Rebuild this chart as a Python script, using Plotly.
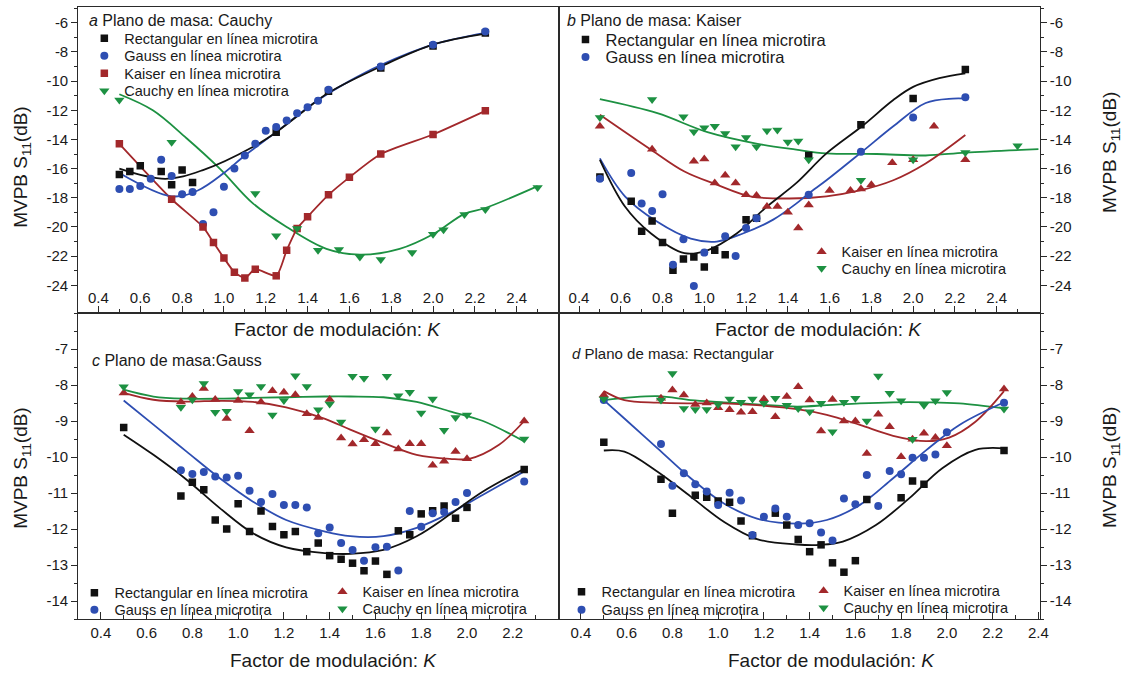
import plotly.graph_objects as go

W, H = 1135, 673

# ---------------- tick labels ----------------
ab_yticks = [-6, -8, -10, -12, -14, -16, -18, -20, -22, -24]
cd_yticks = [-7, -8, -9, -10, -11, -12, -13, -14]
ab_xticks = [0.4, 0.6, 0.8, 1.0, 1.2, 1.4, 1.6, 1.8, 2.0, 2.2, 2.4]
c_xticks = [0.4, 0.6, 0.8, 1.0, 1.2, 1.4, 1.6, 1.8, 2.0, 2.2]
d_xticks = [0.4, 0.6, 0.8, 1.0, 1.2, 1.4, 1.6, 1.8, 2.0, 2.2, 2.4]

# ---------------- panel a: ground plane Cauchy ----------------
a_rect_k = [0.5, 0.55, 0.6, 0.7, 0.75, 0.8, 0.85, 1.25, 1.5, 1.75, 2.0, 2.25]
a_rect_v = [-16.4, -16.2, -15.8, -16.2, -17.1, -16.1, -16.95, -13.5, -10.7, -9.1, -7.6, -6.7]
a_rect_fit_k = [0.5, 0.72, 0.9, 1.14, 1.25, 1.45, 1.5, 1.75, 2.0, 2.25]
a_rect_fit_v = [-16.0, -16.7, -16.1, -14.5, -13.5, -11.3, -10.8, -9.0, -7.5, -6.75]

a_gauss_k = [0.5, 0.55, 0.6, 0.65, 0.7, 0.75, 0.8, 0.85, 0.9, 0.95, 1.0, 1.05, 1.1, 1.15,
             1.2, 1.25, 1.3, 1.35, 1.4, 1.45, 1.5, 1.75, 2.0, 2.25]
a_gauss_v = [-17.4, -17.4, -17.2, -16.7, -15.4, -16.5, -17.75, -17.6, -19.8, -19.0, -17.25,
             -16.0, -15.1, -14.3, -13.4, -13.15, -12.7, -12.2, -11.8, -11.35, -10.6, -9.0, -7.5, -6.6]
a_gauss_fit_k = [0.5, 0.75, 0.875, 1.0, 1.1, 1.25, 1.45, 1.6, 1.75, 2.0, 2.25]
a_gauss_fit_v = [-16.3, -17.9, -17.5, -16.3, -15.1, -13.5, -11.3, -10.0, -8.9, -7.5, -6.7]

a_kaiser_k = [0.5, 0.75, 0.9, 0.95, 1.0, 1.05, 1.1, 1.15, 1.25, 1.3, 1.35, 1.4, 1.5, 1.6, 1.75, 2.0, 2.25]
a_kaiser_v = [-14.3, -18.1, -20.0, -21.07, -22.13, -23.1, -23.5, -22.9, -23.35, -21.6, -20.1,
              -19.3, -17.8, -16.6, -15.0, -13.66, -12.04]

a_cauchy_k = [0.5, 0.75, 1.15, 1.25, 1.35, 1.45, 1.55, 1.65, 1.75, 1.9, 2.0, 2.05, 2.15, 2.25, 2.5]
a_cauchy_v = [-11.3, -14.2, -17.7, -20.6, -20.1, -21.6, -21.55, -22.06, -22.24, -21.76, -20.5,
              -20.2, -19.15, -18.8, -17.3]
a_cauchy_fit_k = [0.5, 0.66, 0.82, 0.98, 1.14, 1.3, 1.49, 1.65, 1.84, 2.0, 2.15, 2.25, 2.5]
a_cauchy_fit_v = [-10.9, -12.0, -13.9, -16.0, -18.4, -20.0, -21.5, -21.9, -21.5, -20.5, -19.1, -18.7, -17.2]

# ---------------- panel b: ground plane Kaiser ----------------
b_rect_k = [0.5, 0.65, 0.7, 0.75, 0.8, 0.85, 0.9, 0.95, 1.0, 1.05, 1.1, 1.2, 1.25, 1.5, 1.75, 2.0, 2.25]
b_rect_v = [-16.57, -18.24, -20.3, -19.6, -21.07, -22.97, -22.2, -22.06, -22.75, -21.6, -21.9,
            -19.5, -19.4, -15.1, -13.0, -11.2, -9.2]
b_rect_fit_k = [0.5, 0.62, 0.745, 0.905, 1.015, 1.155, 1.3, 1.44, 1.585, 1.755, 1.905, 2.0, 2.125, 2.25]
b_rect_fit_v = [-15.4, -18.6, -20.45, -21.8, -21.6, -20.45, -18.6, -17.0, -14.96, -13.1, -11.3,
                -10.4, -9.8, -9.47]

b_gauss_k = [0.5, 0.65, 0.7, 0.75, 0.8, 0.85, 0.9, 0.95, 1.0, 1.1, 1.15, 1.2, 1.25, 1.5, 1.75, 2.0, 2.25]
b_gauss_v = [-16.7, -16.3, -18.4, -18.9, -17.76, -22.6, -20.85, -24.05, -21.76, -20.64, -22.0,
             -20.07, -19.4, -17.8, -14.85, -12.5, -11.1]
b_gauss_fit_k = [0.5, 0.62, 0.775, 0.935, 1.06, 1.185, 1.33, 1.44, 1.5, 1.585, 1.755, 1.905, 2.06, 2.19, 2.25]
b_gauss_fit_v = [-15.3, -17.9, -19.65, -20.8, -21.0, -20.45, -19.5, -18.4, -17.7, -16.8, -14.85,
                 -13.1, -11.5, -11.2, -11.2]

b_kaiser_k = [0.5, 0.75, 0.95, 1.0, 1.05, 1.1, 1.15, 1.2, 1.25, 1.3, 1.35, 1.4, 1.45, 1.5, 1.6,
              1.7, 1.75, 1.8, 1.9, 2.0, 2.1, 2.25]
b_kaiser_v = [-13.1, -14.67, -15.5, -15.35, -16.98, -16.45, -16.98, -17.8, -17.85, -18.6, -18.6,
              -19.0, -20.07, -18.5, -17.5, -17.5, -17.4, -17.1, -15.6, -15.4, -13.1, -15.4]
b_kaiser_fit_k = [0.5, 0.745, 0.905, 1.06, 1.22, 1.41, 1.585, 1.745, 1.905, 2.06, 2.25]
b_kaiser_fit_v = [-12.3, -14.7, -16.2, -17.1, -17.9, -18.05, -17.9, -17.5, -16.8, -15.65, -13.7]

b_cauchy_k = [0.5, 0.75, 0.9, 0.95, 1.0, 1.05, 1.1, 1.15, 1.2, 1.25, 1.3, 1.35, 1.4, 1.45, 1.5,
              1.75, 2.0, 2.25, 2.5]
b_cauchy_v = [-12.5, -11.26, -12.45, -13.48, -13.2, -13.1, -13.6, -14.5, -13.87, -14.5, -13.4,
              -13.36, -14.17, -14.1, -15.4, -16.8, -15.4, -14.9, -14.44]
b_cauchy_fit_k = [0.5, 0.775, 1.015, 1.255, 1.44, 1.585, 1.825, 2.06, 2.25, 2.6]
b_cauchy_fit_v = [-11.24, -12.2, -13.5, -14.3, -14.7, -14.96, -15.0, -15.1, -14.9, -14.67]

# ---------------- panel c: ground plane Gauss ----------------
c_k = [0.75, 0.8, 0.85, 0.9, 0.95, 1.0, 1.05, 1.1, 1.15, 1.2, 1.25, 1.3, 1.35, 1.4, 1.45,
       1.5, 1.55, 1.6, 1.65, 1.7, 1.75, 1.8, 1.85, 1.9, 1.95, 2.0, 2.25]
c_rect_k = [0.5] + c_k
c_rect_v = [-9.18, -11.08, -10.70, -10.91, -11.75, -12.0, -11.3, -12.07, -11.5, -11.93, -12.16,
            -12.07, -12.63, -12.39, -12.74, -12.84, -12.95, -13.16, -12.89, -13.26, -12.05,
            -12.16, -11.58, -11.49, -11.36, -11.7, -11.4, -10.35]
c_gauss_k = c_k
c_gauss_v = [-10.37, -10.47, -10.42, -10.54, -10.57, -10.52, -10.94, -11.25, -11.03, -11.33,
             -11.33, -11.4, -12.12, -11.96, -12.39, -12.58, -12.88, -12.51, -12.49, -13.15,
             -11.5, -11.94, -11.56, -11.53, -11.25, -11.0, -10.68]
c_kaiser_k = [0.5] + c_k
c_kaiser_v = [-8.22, -8.47, -8.32, -8.1, -8.4, -8.93, -8.43, -9.27, -8.47, -8.16, -8.2, -8.27,
              -8.8, -8.9, -8.4, -9.47, -9.64, -9.52, -9.63, -9.33, -9.78, -9.63, -9.63, -10.23,
              -10.12, -9.85, -10.05, -9.0]
c_cauchy_k = [0.5] + c_k
c_cauchy_v = [-8.05, -8.62, -8.41, -7.96, -8.76, -8.73, -8.18, -8.27, -8.04, -8.83, -8.43,
              -7.74, -8.04, -8.69, -8.53, -9.03, -7.76, -7.81, -9.22, -7.76, -8.3, -8.2, -8.78,
              -8.39, -9.26, -8.9, -8.83, -9.5]
c_fit_k = [0.5, 0.63, 0.775, 0.92, 1.065, 1.21, 1.38, 1.49, 1.635, 1.78, 1.925, 2.07, 2.25]
c_rect_fit_v = [-9.38, -9.94, -10.63, -11.42, -12.12, -12.51, -12.67, -12.69, -12.58, -12.2,
                -11.6, -10.96, -10.33]
c_gauss_fit_v = [-8.43, -9.1, -9.85, -10.59, -11.24, -11.75, -12.07, -12.2, -12.2, -11.97,
                 -11.56, -11.05, -10.4]
c_cauchy_fit_v = [-8.13, -8.32, -8.38, -8.38, -8.36, -8.34, -8.32, -8.32, -8.34, -8.47, -8.73,
                  -9.0, -9.57]
c_kaiser_fit_k = [0.5, 0.63, 0.775, 0.92, 1.065, 1.21, 1.38, 1.49, 1.635, 1.78, 1.925, 2.01, 2.14, 2.25]
c_kaiser_fit_v = [-8.22, -8.41, -8.46, -8.44, -8.47, -8.62, -8.94, -9.24, -9.61, -9.94, -10.05,
                  -10.05, -9.66, -9.0]

# ---------------- panel d: ground plane Rectangular ----------------
d_rect_k = [0.5, 0.75, 0.8, 0.9, 0.95, 1.0, 1.05, 1.1, 1.15, 1.25, 1.3, 1.35, 1.4, 1.45, 1.5,
            1.55, 1.6, 1.65, 1.8, 1.85, 1.9, 2.25]
d_rect_v = [-9.59, -10.62, -11.56, -11.06, -11.12, -11.22, -11.26, -11.78, -12.19, -11.56,
            -11.89, -12.29, -12.63, -12.44, -12.94, -13.2, -12.88, -11.18, -11.13, -10.67,
            -10.76, -9.82]
d_k = [0.5, 0.75, 0.8, 0.85, 0.9, 0.95, 1.0, 1.05, 1.1, 1.15, 1.2, 1.25, 1.3, 1.35, 1.4, 1.45,
       1.5, 1.55, 1.6, 1.65, 1.7, 1.75, 1.8, 1.85, 1.9, 1.95, 2.0, 2.25]
d_gauss_v = [-8.42, -9.64, -10.8, -10.45, -10.76, -10.96, -11.33, -10.99, -11.21, -12.17,
             -11.66, -11.43, -11.66, -11.89, -11.84, -12.1, -12.32, -11.15, -11.31, -10.5,
             -11.36, -10.39, -10.48, -10.02, -10.02, -9.93, -9.31, -8.49]
d_kaiser_v = [-8.28, -8.37, -8.14, -8.28, -8.54, -8.5, -8.63, -8.69, -8.76, -8.74, -8.39, -8.88,
              -8.32, -8.05, -8.42, -9.28, -8.4, -9.0, -9.0, -9.9, -8.81, -9.16, -9.99, -9.51,
              -9.34, -9.46, -9.69, -8.11]
d_cauchy_v = [-8.39, -8.42, -7.68, -8.65, -8.68, -8.68, -8.54, -8.39, -8.48, -8.39, -8.51,
              -8.37, -8.56, -8.65, -8.74, -8.51, -9.3, -8.48, -8.37, -9.0, -7.75, -8.23, -8.44,
              -9.51, -8.56, -8.44, -8.21, -8.67]
d_rect_fit_k = [0.5, 0.59, 0.735, 0.88, 1.025, 1.17, 1.345, 1.445, 1.545, 1.69, 1.835, 1.98, 2.125, 2.25]
d_rect_fit_v = [-9.82, -9.85, -10.41, -11.1, -11.8, -12.28, -12.43, -12.44, -12.35, -11.89,
                -11.15, -10.31, -9.8, -9.76]
d_gauss_fit_k = [0.5, 0.59, 0.735, 0.88, 1.025, 1.17, 1.345, 1.475, 1.62, 1.765, 1.91, 2.055, 2.25]
d_gauss_fit_v = [-8.42, -8.93, -9.76, -10.59, -11.29, -11.71, -11.85, -11.75, -11.33, -10.59,
                 -9.81, -9.11, -8.48]
d_kaiser_fit_k = [0.5, 0.59, 0.735, 0.88, 1.025, 1.17, 1.345, 1.475, 1.62, 1.765, 1.91, 2.01, 2.125, 2.25]
d_kaiser_fit_v = [-8.17, -8.42, -8.49, -8.51, -8.51, -8.56, -8.67, -8.83, -9.11, -9.41, -9.56,
                  -9.46, -9.02, -8.17]
d_cauchy_fit_k = [0.5, 0.735, 0.88, 1.025, 1.17, 1.345, 1.475, 1.62, 1.765, 1.91, 2.055, 2.25]
d_cauchy_fit_v = [-8.42, -8.31, -8.42, -8.48, -8.54, -8.6, -8.56, -8.51, -8.48, -8.48, -8.51, -8.65]

# ---------------- styling ----------------
BLACK = "#111111"
BLUE = "#2e4eb2"
RED = "#a2282b"
GREEN = "#1d9142"
FONT = "Arial, Liberation Sans, sans-serif"
AXIS = "#2a2a2a"

NAME_RECT = "Rectangular en línea microtira"
NAME_GAUSS = "Gauss en línea microtira"
NAME_KAISER = "Kaiser en línea microtira"
NAME_CAUCHY = "Cauchy en línea microtira"


def fx(p):
    return p / W


def fy(p):
    return 1 - p / H


fig = go.Figure()
legends = {}


def legend_entry(marker_x, row_y, size):
    """One legend box per entry so every row sits exactly where it belongs."""
    key = "legend" if not legends else f"legend{len(legends) + 1}"
    legends[key] = dict(
        x=fx(marker_x - 18), y=fy(row_y - 16 - (size - 14) * 0.5),
        xanchor="left", yanchor="top", xref="paper", yref="paper",
        bgcolor="rgba(0,0,0,0)", borderwidth=0,
        font=dict(family=FONT, size=size, color="#1a1a1a"), itemsizing="trace")
    return key


def points(xa, ya, k, v, color, symbol, size, name, where=None):
    legend = legend_entry(*where) if where else "legend"
    fig.add_trace(go.Scatter(
        x=k, y=v, mode="markers", xaxis=xa, yaxis=ya, name=name,
        marker=dict(color=color, symbol=symbol, size=size, line=dict(width=0)),
        showlegend=where is not None, legend=legend, hoverinfo="x+y"))


def curve(xa, ya, k, v, color, smoothing=1.0):
    fig.add_trace(go.Scatter(
        x=k, y=v, mode="lines", xaxis=xa, yaxis=ya, showlegend=False,
        line=dict(color=color, width=1.8, shape="spline", smoothing=smoothing),
        hoverinfo="skip"))


SQ, CI, TU, TD = "square", "circle", "triangle-up", "triangle-down"
LG = 14.5

# panel a
curve("x", "y", a_cauchy_fit_k, a_cauchy_fit_v, GREEN)
curve("x", "y", a_kaiser_k, a_kaiser_v, RED, 0.6)
curve("x", "y", a_gauss_fit_k, a_gauss_fit_v, BLUE)
curve("x", "y", a_rect_fit_k, a_rect_fit_v, BLACK)
points("x", "y", a_rect_k, a_rect_v, BLACK, SQ, 7.5, NAME_RECT, (103, 38.5, LG))
points("x", "y", a_gauss_k, a_gauss_v, BLUE, CI, 8, NAME_GAUSS, (103, 56, LG))
points("x", "y", a_kaiser_k, a_kaiser_v, RED, SQ, 7.5, NAME_KAISER, (103, 73.5, LG))
points("x", "y", a_cauchy_k, a_cauchy_v, GREEN, TD, 9, NAME_CAUCHY, (103, 91, LG))

# panel b
curve("x2", "y2", b_cauchy_fit_k, b_cauchy_fit_v, GREEN)
curve("x2", "y2", b_kaiser_fit_k, b_kaiser_fit_v, RED)
curve("x2", "y2", b_gauss_fit_k, b_gauss_fit_v, BLUE)
curve("x2", "y2", b_rect_fit_k, b_rect_fit_v, BLACK)
points("x2", "y2", b_rect_k, b_rect_v, BLACK, SQ, 7.5, NAME_RECT, (588, 39.5, 16.5))
points("x2", "y2", b_gauss_k, b_gauss_v, BLUE, CI, 8, NAME_GAUSS, (588, 57, 16.5))
points("x2", "y2", b_kaiser_k, b_kaiser_v, RED, TU, 9, NAME_KAISER, (826, 252, LG))
points("x2", "y2", b_cauchy_k, b_cauchy_v, GREEN, TD, 9, NAME_CAUCHY, (826, 268.5, LG))

# panel c
curve("x3", "y3", c_fit_k, c_cauchy_fit_v, GREEN)
curve("x3", "y3", c_kaiser_fit_k, c_kaiser_fit_v, RED)
curve("x3", "y3", c_fit_k, c_gauss_fit_v, BLUE)
curve("x3", "y3", c_fit_k, c_rect_fit_v, BLACK)
points("x3", "y3", c_rect_k, c_rect_v, BLACK, SQ, 7.5, NAME_RECT, (93, 593, LG))
points("x3", "y3", c_gauss_k, c_gauss_v, BLUE, CI, 8, NAME_GAUSS, (93, 610, LG))
points("x3", "y3", c_kaiser_k, c_kaiser_v, RED, TU, 9, NAME_KAISER, (343, 592, LG))
points("x3", "y3", c_cauchy_k, c_cauchy_v, GREEN, TD, 9, NAME_CAUCHY, (343, 609, LG))

# panel d
curve("x4", "y4", d_cauchy_fit_k, d_cauchy_fit_v, GREEN)
curve("x4", "y4", d_kaiser_fit_k, d_kaiser_fit_v, RED)
curve("x4", "y4", d_gauss_fit_k, d_gauss_fit_v, BLUE)
curve("x4", "y4", d_rect_fit_k, d_rect_fit_v, BLACK)
points("x4", "y4", d_rect_k, d_rect_v, BLACK, SQ, 7.5, NAME_RECT, (584, 592, LG))
points("x4", "y4", d_k, d_gauss_v, BLUE, CI, 8, NAME_GAUSS, (584, 610, LG))
points("x4", "y4", d_k, d_kaiser_v, RED, TU, 9, NAME_KAISER, (828, 591, LG))
points("x4", "y4", d_k, d_cauchy_v, GREEN, TD, 9, NAME_CAUCHY, (828, 608, LG))

# ---------------- axes ----------------
XL, XM, XR = fx(79), fx(563), fx(1048)
YT, YM, YB = fy(7), fy(313), fy(619)

tickfont = dict(family=FONT, size=15, color="#1a1a1a")


def xaxis(domain, anchor, rng, ticks, inside_labels):
    d = dict(domain=domain, anchor=anchor, range=rng, showgrid=False, zeroline=False,
             showline=True, linecolor=AXIS, linewidth=1.3, mirror=True,
             ticks="inside", ticklen=7, tickwidth=1.2, tickcolor=AXIS,
             tickmode="array", tickvals=ticks, ticktext=[f"{t:.1f}" for t in ticks],
             tickfont=tickfont,
             minor=dict(ticks="inside", ticklen=4, tickwidth=1, tickcolor=AXIS,
                        tickmode="linear", tick0=0.3, dtick=0.2))
    if inside_labels:
        d["ticklabelposition"] = "inside"
    return d


def yaxis(domain, anchor, rng, ticks, side, minor_step):
    return dict(domain=domain, anchor=anchor, range=rng, side=side, showgrid=False,
                zeroline=False, showline=True, linecolor=AXIS, linewidth=1.3, mirror=True,
                ticks="outside", ticklen=6, tickwidth=1.2, tickcolor=AXIS,
                tickmode="array", tickvals=ticks, ticktext=[str(t) for t in ticks],
                tickfont=tickfont,
                minor=dict(ticks="outside", ticklen=3, tickwidth=1, tickcolor=AXIS,
                           tickmode="linear", tick0=ticks[0], dtick=minor_step))


AB_Y = [-25.9, -4.92]
CD_Y = [-14.5, -6.0]

fig.update_layout(
    width=W, height=H, margin=dict(l=0, r=0, t=0, b=0),
    paper_bgcolor="white", plot_bgcolor="white",
    font=dict(family=FONT, color="#1a1a1a"),
    xaxis=xaxis([XL, XM], "y", [0.304, 2.60], ab_xticks, True),
    yaxis=yaxis([YM, YT], "x", AB_Y, ab_yticks, "left", 1),
    xaxis2=xaxis([XM, XR], "y2", [0.302, 2.606], ab_xticks, True),
    yaxis2=yaxis([YM, YT], "x2", AB_Y, ab_yticks, "right", 1),
    xaxis3=xaxis([XL, XM], "y3", [0.302, 2.40], c_xticks, False),
    yaxis3=yaxis([YB, YM], "x3", CD_Y, cd_yticks, "left", 0.5),
    xaxis4=xaxis([XM, XR], "y4", [0.302, 2.406], d_xticks, False),
    yaxis4=yaxis([YB, YM], "x4", CD_Y, cd_yticks, "right", 0.5),
)
fig.update_layout(**legends)

# ---------------- text ----------------
ann = []


def text(x, y, s, size, xanchor="left", angle=0):
    ann.append(dict(x=fx(x), y=fy(y), xref="paper", yref="paper", text=s, showarrow=False,
                    xanchor=xanchor, yanchor="middle", textangle=angle,
                    font=dict(family=FONT, size=size, color="#1a1a1a")))


text(88, 20, "<i>a</i> Plano de masa: Cauchy", 16)
text(570, 20, "<i>b</i> Plano de masa: Kaiser", 16)
text(91, 360, "<i>c</i> Plano de masa:Gauss", 16)
text(575, 353, "<i>d</i> Plano de masa: Rectangular", 15)

xt = "Factor de modulación: <i>K</i>"
text(340, 329, xt, 19, "center")
text(825, 329, xt, 19, "center")
text(336, 660, xt, 19, "center")
text(838, 660, xt, 19, "center")

yt = "MVPB S<sub>11</sub>(dB)"
text(22, 167, yt, 19, "center", -90)
text(22, 468, yt, 19, "center", -90)
text(1120, 152, yt, 19, "center", -90)
text(1120, 467, yt, 19, "center", -90)

fig.update_layout(annotations=ann)

fig.write_html("out.html")
